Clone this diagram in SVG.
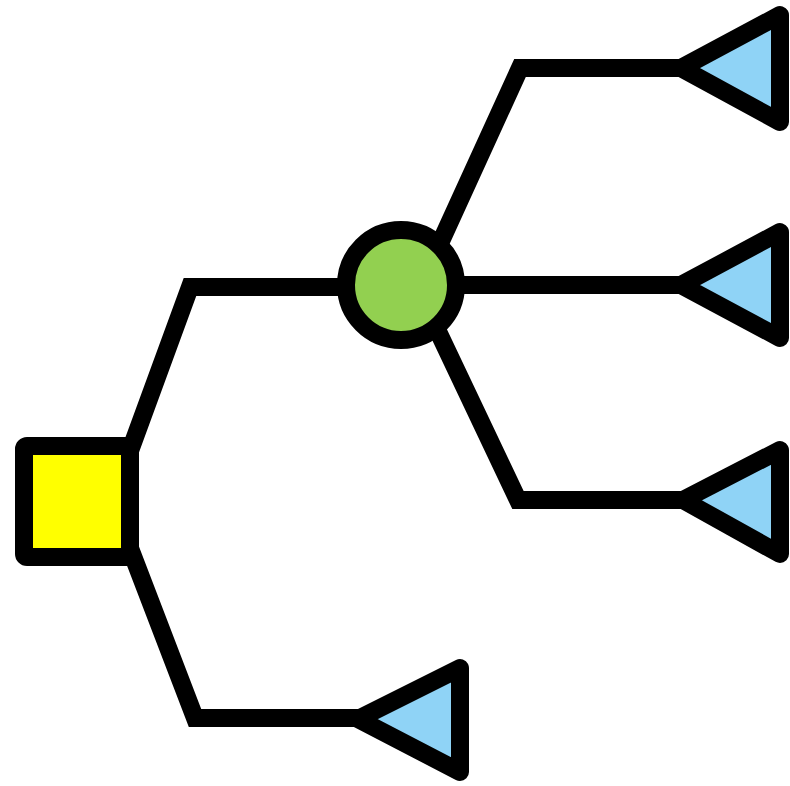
<svg xmlns="http://www.w3.org/2000/svg" width="790" height="786" viewBox="0 0 790 786">
  <style>
    .edge { fill: none; stroke: #000; stroke-width: 18; stroke-linejoin: miter; }
    .node { stroke: #000; stroke-width: 18; stroke-linejoin: round; }
    .chance { fill: #92D050; }
    .decision { fill: #FFFF00; }
    .end { fill: #8FD3F6; }
  </style>
  <rect width="790" height="786" fill="#fff"/>
  <g id="connectors">
    <polyline class="edge" points="123,470 190,287 402,287"/>
    <polyline class="edge" points="123,530 195,718 400,718"/>
    <polyline class="edge" points="421,285 520,68 700,68"/>
    <polyline class="edge" points="402,285 700,285"/>
    <polyline class="edge" points="416,285 518,500 700,500"/>
  </g>
  <g id="decision">
    <rect class="node decision" x="24" y="446" width="106" height="111" rx="3"/>
  </g>
  <g id="chance">
    <circle class="node chance" cx="401" cy="285" r="55"/>
  </g>
  <g id="end1">
    <polygon class="node end" points="681,68 780,15 780,122"/>
  </g>
  <g id="end2">
    <polygon class="node end" points="681,285 780,232 780,338"/>
  </g>
  <g id="end3">
    <polygon class="node end" points="683,500 780,450 780,554"/>
  </g>
  <g id="end4">
    <polygon class="node end" points="358,719 460,668 460,772"/>
  </g>
</svg>
